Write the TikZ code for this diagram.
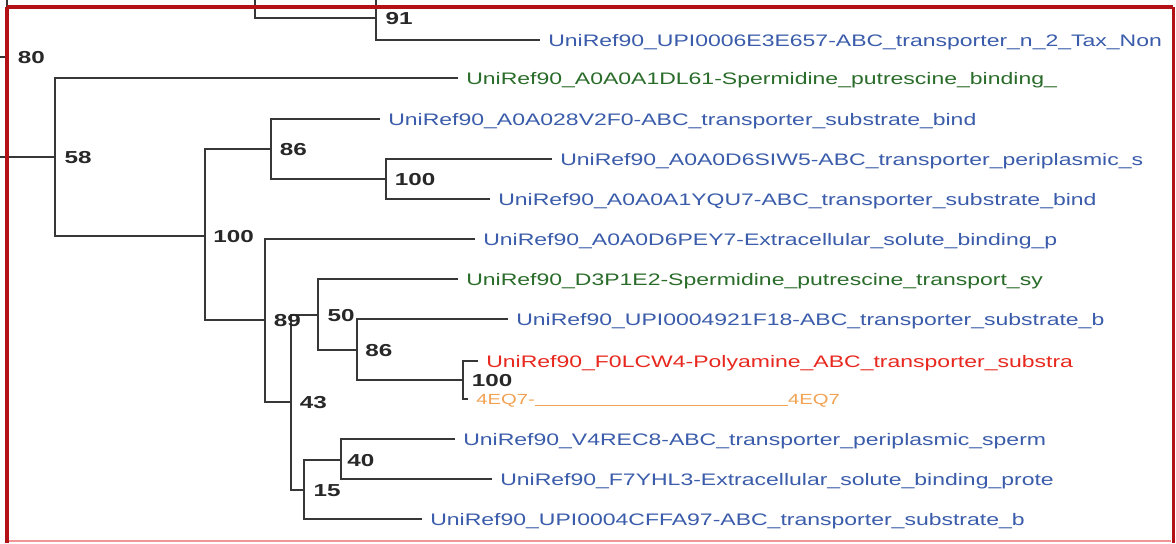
\documentclass[tikz,border=0pt]{standalone}
\usepackage{fontspec}
\setmainfont{Liberation Sans}
\newfontfamily\leaffont[FakeStretch=1.38]{Liberation Sans}
\newfontfamily\supfont[FakeStretch=1.4]{Liberation Sans}
\usetikzlibrary{positioning}
\definecolor{leafblue}{RGB}{58,92,170}
\definecolor{leafgreen}{RGB}{42,108,42}
\definecolor{leafred}{RGB}{232,40,30}
\definecolor{leaforange}{RGB}{242,162,82}
\definecolor{treegray}{RGB}{55,55,55}
\definecolor{supgray}{RGB}{40,40,40}
\definecolor{framered}{RGB}{178,18,22}
\definecolor{framepink}{RGB}{240,150,150}
\tikzset{branch/.style={draw=treegray,line width=1pt},
leaf node/.style={anchor=west,inner xsep=6pt,inner ysep=0pt,text height=9pt,text depth=0pt,
font=\leaffont\fontsize{12.5}{14}\selectfont},
sup node/.style={inner sep=0pt,text height=9.3pt,text depth=0pt,text=supgray,
font=\supfont\bfseries\fontsize{13}{15}\selectfont}}

\begin{document}
\begin{tikzpicture}[x=0.75pt,y=-0.75pt]
    \useasboundingbox (0,0) rectangle (1176,543);
    \fill[white] (0,0) rectangle (1176,543);

    % inner nodes of the tree
    \coordinate (n80) at (7,57);
    \coordinate (n58) at (55,157);
    \coordinate (n100a) at (205,236);
    \coordinate (n86a) at (271,149);
    \coordinate (n100b) at (386,179);
    \coordinate (n89) at (265,320);
    \coordinate (n43) at (291,402);
    \coordinate (n50) at (318,315);
    \coordinate (n86b) at (357,350);
    \coordinate (n100c) at (463,380);
    \coordinate (n15) at (304,490);
    \coordinate (n40) at (341,460);
    \coordinate (n91) at (376,18);
    \coordinate (top80) at (7,-10);
    \coordinate (top91) at (376,-10);
    \coordinate (top255) at (255,-10);
    \coordinate (stub80) at (0,57);
    \coordinate (stub58) at (0,157);

    % leaves
    \node[leaf node,leafblue] (UPI6E3) at (540,40) {UniRef90\_UPI0006E3E657-ABC\_transporter\_n\_2\_Tax\_Non};
    \node[leaf node,leafgreen] (DL61) at (458,78) {UniRef90\_A0A0A1DL61-Spermidine\_putrescine\_binding\_};
    \node[leaf node,leafblue] (V2F0) at (380,119) {UniRef90\_A0A028V2F0-ABC\_transporter\_substrate\_bind};
    \node[leaf node,leafblue] (SIW5) at (552,159) {UniRef90\_A0A0D6SIW5-ABC\_transporter\_periplasmic\_s};
    \node[leaf node,leafblue] (YQU7) at (490,199) {UniRef90\_A0A0A1YQU7-ABC\_transporter\_substrate\_bind};
    \node[leaf node,leafblue] (PEY7) at (475,239) {UniRef90\_A0A0D6PEY7-Extracellular\_solute\_binding\_p};
    \node[leaf node,leafgreen] (P1E2) at (458,279) {UniRef90\_D3P1E2-Spermidine\_putrescine\_transport\_sy};
    \node[leaf node,leafblue] (F18) at (508,319) {UniRef90\_UPI0004921F18-ABC\_transporter\_substrate\_b};
    \node[leaf node,leafred] (LCW4) at (478,361) {UniRef90\_F0LCW4-Polyamine\_ABC\_transporter\_substra};
    \node[leaf node,leaforange,font=\leaffont\fontsize{11}{13}\selectfont,text height=7.9pt] (EQ7) at (468,399)
        {4EQ7-\rule[-1.6pt]{190pt}{1.2pt}4EQ7};
    \node[leaf node,leafblue] (REC8) at (455,439) {UniRef90\_V4REC8-ABC\_transporter\_periplasmic\_sperm};
    \node[leaf node,leafblue] (YHL3) at (492,479) {UniRef90\_F7YHL3-Extracellular\_solute\_binding\_prote};
    \node[leaf node,leafblue] (FA97) at (422,519) {UniRef90\_UPI0004CFFA97-ABC\_transporter\_substrate\_b};

    % branches
    \draw[branch] (stub80) -- (n80);
    \draw[branch] (top80) -- (n80) |- (n58);
    \draw[branch] (stub58) -- (n58);
    \draw[branch] (top255) |- (n91);
    \draw[branch] (top91) |- (UPI6E3);
    \draw[branch] (n58) |- (DL61) (n58) |- (n100a);
    \draw[branch] (n100a) |- (n86a) (n100a) |- (n89);
    \draw[branch] (n86a) |- (V2F0) (n86a) |- (n100b);
    \draw[branch] (n100b) |- (SIW5) (n100b) |- (YQU7);
    \draw[branch] (n89) |- (PEY7) (n89) |- (n43);
    \draw[branch] (n43) |- (n50) (n43) |- (n15);
    \draw[branch] (n50) |- (P1E2) (n50) |- (n86b);
    \draw[branch] (n86b) |- (F18) (n86b) |- (n100c);
    \draw[branch] (n100c) |- (LCW4) (n100c) |- (EQ7);
    \draw[branch] (n15) |- (n40) (n15) |- (FA97);
    \draw[branch] (n40) |- (REC8) (n40) |- (YHL3);

    % support values
    \node[sup node,right=8pt of n80] (s80) {80};
    \node[sup node,right=7pt of n91] (s91) {91};
    \node[sup node,right=7pt of n58] (s58) {58};
    \node[sup node,right=6pt of n100a] (s100a) {100};
    \node[sup node,right=6.5pt of n86a] (s86a) {86};
    \node[sup node,right=6.5pt of n100b] (s100b) {100};
    \node[sup node,right=6.5pt of n89] (s89) {89};
    \node[sup node,right=7pt of n50] (s50) {50};
    \node[sup node,right=6pt of n86b] (s86b) {86};
    \node[sup node,right=6.5pt of n100c] (s100c) {100};
    \node[sup node,right=6.5pt of n43] (s43) {43};
    \node[sup node,right=4.5pt of n40] (s40) {40};
    \node[sup node,right=7pt of n15] (s15) {15};

    % frame
    \draw[framered,line width=3pt] (7,7) -- (1173,7);
    \draw[framered,line width=3pt] (7,7) -- (7,543);
    \draw[framered,line width=2.25pt] (1173,7) -- (1173,543);
    \draw[framepink,line width=1.5pt] (9,541) -- (1171,541);
\end{tikzpicture}
\end{document}
